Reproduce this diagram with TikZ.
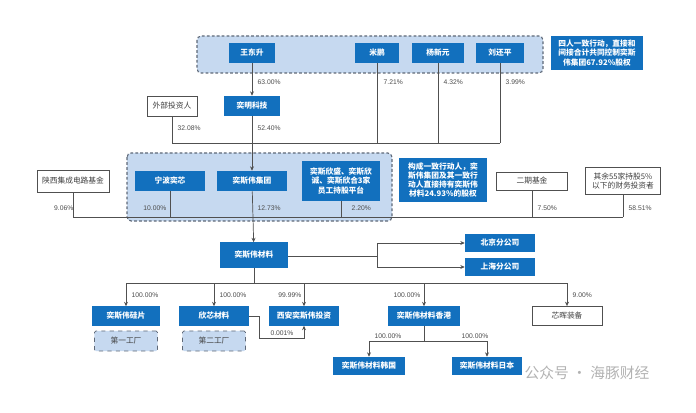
\documentclass[tikz,border=0pt]{standalone}
\usepackage{fontspec}
\setmainfont{Noto Sans CJK SC}
\newfontfamily\numfont{Liberation Sans}
\usetikzlibrary{arrows.meta}

\definecolor{boxblue}{RGB}{18,112,190}
\definecolor{grpfill}{RGB}{198,217,240}
\definecolor{grpline}{RGB}{95,105,120}
\definecolor{linegray}{RGB}{80,80,80}

\begin{document}
\begin{tikzpicture}[
    x=0.025cm, y=-0.025cm,
    box/.style={fill=boxblue, text=white, align=center, inner sep=1pt, minimum height=5mm, font=\fontsize{5.5}{6.6}\selectfont\bfseries},
    wbox/.style={draw=linegray, line width=0.6pt, fill=white, text=black!75, align=center, inner sep=1pt, minimum height=5mm, font=\fontsize{5.5}{6.6}\selectfont},
    fac/.style={draw=grpline, dashed, line width=0.6pt, fill=grpfill, rounded corners=1pt, text=black!75, minimum width=15.75mm, minimum height=5mm, font=\fontsize{5.5}{6.6}\selectfont},
    grp/.style={draw=grpline, dash pattern=on 2pt off 1.5pt, line width=0.8pt, fill=grpfill, rounded corners=3pt},
    pct/.style={inner sep=1pt, text=black!70, font=\numfont\fontsize{4.8}{5.5}\selectfont},
    conn/.style={draw=linegray, line width=0.5pt},
    arr/.style={conn, -{Stealth[length=1.1mm, width=1mm]}}
]
\useasboundingbox (0,0) rectangle (696,413);

% groups
\draw[grp] (197,36) rectangle (543,73);
\draw[grp] (127,153) rectangle (392,221);

% top level
\node[box, minimum width=11.5mm] (wds) at (252,53) {王东升};
\node[box, minimum width=11mm] (mp) at (377,53) {米鹏};
\node[box, minimum width=12.75mm] (yxy) at (438,53) {杨新元};
\node[box, minimum width=12mm] (lhp) at (500,53) {刘还平};
\node[box, minimum width=23mm, minimum height=8.5mm] (note1) at (597,53) {四人一致行动，直接和\\间接合计共同控制奕斯\\伟集团67.92\%股权};

\node[box, minimum width=14mm] (ymkj) at (252,106) {奕明科技};
\node[wbox, minimum width=12.5mm] (wbtz) at (172,106) {外部投资人};

% second level
\node[box, minimum width=17.25mm] (nbyx) at (170,181) {宁波奕芯};
\node[box, minimum width=17.25mm] (jt) at (252,181) {奕斯伟集团};
\node[box, minimum width=19.25mm, minimum height=10mm] (ygpt) at (341,181) {奕斯欣盛、奕斯欣\\诚、奕斯欣合3家\\员工持股平台};
\node[box, minimum width=22mm, minimum height=11mm] (note2) at (443,180) {构成一致行动人，奕\\斯伟集团及其一致行\\动人直接持有奕斯伟\\材料24.93\%的股权};
\node[wbox, minimum width=18mm, minimum height=5.5mm] (sxjj) at (73,181) {陕西集成电路基金};
\node[wbox, minimum width=17.75mm, minimum height=4.5mm] (eqjj) at (532,181) {二期基金};
\node[wbox, minimum width=18.75mm, minimum height=6.75mm] (qy) at (623,181) {其余55家持股5\%\\以下的财务投资者};

% materials
\node[box, minimum width=17mm, minimum height=6.25mm] (cl) at (254,255) {奕斯伟材料};
\node[box, minimum width=17.5mm, minimum height=4.5mm] (bj) at (500,243) {北京分公司};
\node[box, minimum width=17.5mm, minimum height=4.5mm] (sh) at (500,267) {上海分公司};

% subsidiaries
\node[box, minimum width=16.75mm, minimum height=4.75mm] (gp) at (126,316) {奕斯伟硅片};
\node[box, minimum width=17.25mm, minimum height=4.75mm] (xx) at (214,316) {欣芯材料};
\node[box, minimum width=17.25mm, minimum height=4.75mm] (xa) at (304,316) {西安奕斯伟投资};
\node[box, minimum width=17.75mm, minimum height=4.75mm] (hk) at (424,316) {奕斯伟材料香港};
\node[wbox, minimum width=17.5mm, minimum height=4.75mm] (xh) at (567,316) {芯晖装备};
\node[fac] (gc1) at (126,341) {第一工厂};
\node[fac] (gc2) at (214,341) {第二工厂};
\node[box, minimum width=17.75mm, minimum height=4.5mm] (kr) at (369,366) {奕斯伟材料韩国};
\node[box, minimum width=17.25mm, minimum height=4.5mm] (jp) at (487,366) {奕斯伟材料日本};

% bus points
\coordinate (bus1) at (500,143);
\coordinate (bus2) at (623,217);
\coordinate (bus3) at (567,283);
\coordinate (br) at (377,256);
\coordinate (k) at (259,338);
\coordinate (hb) at (424,341);

% top connectors
\draw[arr] (wds) -- (ymkj);
\draw[conn] (wbtz.south) |- (bus1);
\draw[conn] (mp.south) -- (mp.south |- bus1);
\draw[conn] (yxy.south) -- (yxy.south |- bus1);
\draw[conn] (lhp.south) -- (bus1);
\draw[arr] (ymkj) -- (jt);

% middle connectors
\draw[conn] (sxjj.south) |- (bus2);
\draw[conn] (nbyx.south) -- (nbyx.south |- bus2);
\draw[conn] (ygpt.south) -- (ygpt.south |- bus2);
\draw[conn] (eqjj.south) -- (eqjj.south |- bus2);
\draw[conn] (qy.south) -- (bus2);
\draw[arr] (jt) -- (cl);

% branches
\draw[conn] (cl.east |- br) -- (br);
\draw[arr] (br) |- (bj.west);
\draw[arr] (br) |- (sh.west);

% subsidiaries connectors
\draw[conn] (cl.south) -- (cl.south |- bus3);
\draw[conn] (gp.north |- bus3) -- (bus3);
\foreach \s in {gp,xx,xa,hk,xh} \draw[arr] (\s.north |- bus3) -- (\s.north);
\draw[arr] (xx.east) -| (k) -| (xa.south);
\draw[conn] (hk.south) -- (hb);
\draw[arr] (hb) -| (kr.north);
\draw[arr] (hb) -| (jp.north);

% percentages
\node[pct, anchor=west] (p1) at (256,82) {63.00\%};
\node[pct, anchor=west] (p2) at (382,82) {7.21\%};
\node[pct, anchor=west] (p3) at (442,82) {4.32\%};
\node[pct, anchor=west] (p4) at (504,82) {3.99\%};
\node[pct, anchor=west] (p5) at (176,128) {32.08\%};
\node[pct, anchor=west] (p6) at (256,128) {52.40\%};
\node[pct, anchor=east] (p7) at (75,208) {9.06\%};
\node[pct, anchor=east] (p8) at (168,208) {10.00\%};
\node[pct, anchor=west] (p9) at (256,208) {12.73\%};
\node[pct, anchor=west] (p10) at (350,208) {2.20\%};
\node[pct, anchor=west] (p11) at (536,208) {7.50\%};
\node[pct, anchor=west] (p12) at (627,208) {58.51\%};
\node[pct, anchor=west] (p13) at (130,295) {100.00\%};
\node[pct, anchor=west] (p14) at (218,295) {100.00\%};
\node[pct, anchor=east] (p15) at (303,295) {99.99\%};
\node[pct, anchor=east] (p16) at (422,295) {100.00\%};
\node[pct, anchor=west] (p17) at (571,295) {9.00\%};
\node[pct] (p18) at (282,333) {0.001\%};
\node[pct] (p19) at (388,336) {100.00\%};
\node[pct] (p20) at (475,336) {100.00\%};

% watermark
\node[text=black!30, font=\fontsize{10.5}{12}\selectfont] (wm) at (587,373) {公众号 · 海豚财经};
\end{tikzpicture}
\end{document}
